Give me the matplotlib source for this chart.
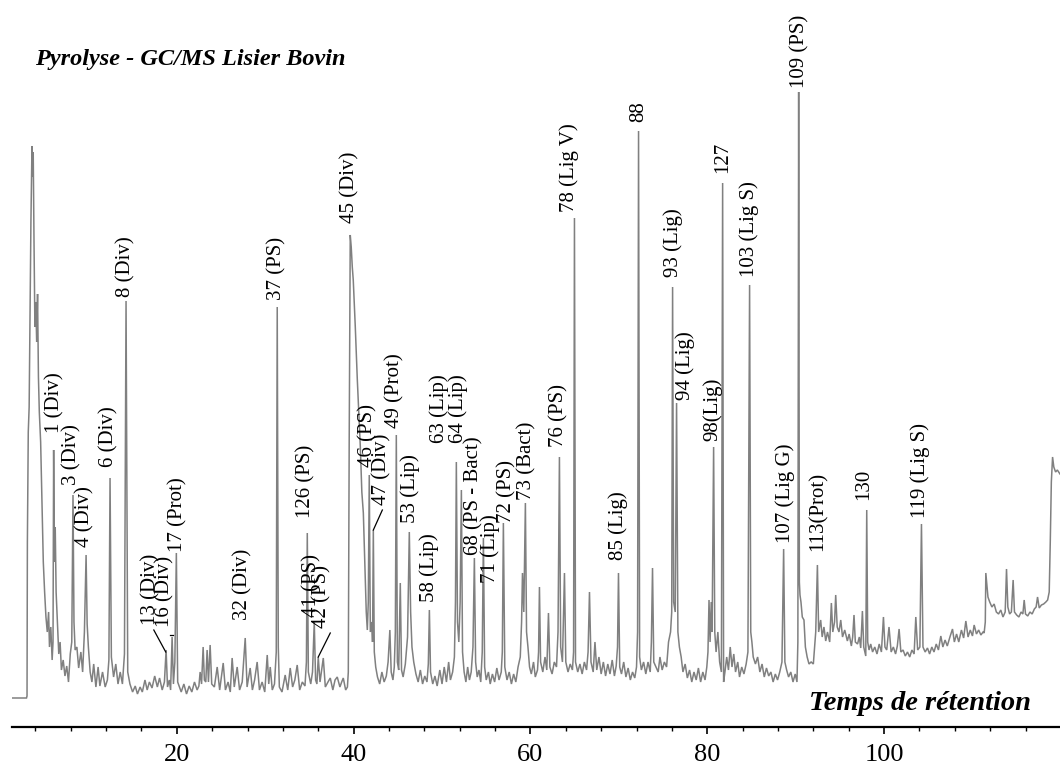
import matplotlib
matplotlib.use("Agg")
import matplotlib.pyplot as plt
from matplotlib.ticker import MultipleLocator

# ---------------- data (retention time in min, abundance in arbitrary units) ----------------
rt_0_20 = [1.36, 3.0, 3.06, 3.1, 3.2, 3.3, 3.4, 3.5, 3.62, 3.7, 3.76, 3.85, 3.95, 4.05, 4.15, 4.25, 4.35,
           4.45, 4.6, 4.75, 4.9, 5.05, 5.2, 5.35, 5.5, 5.6, 5.75, 5.9, 6.0, 6.07, 6.15, 6.25, 6.35, 6.5,
           6.65, 6.8, 6.95, 7.15, 7.35, 7.55, 7.75, 7.95, 8.12, 8.26, 8.37, 8.5, 8.7, 8.9, 9.15, 9.35,
           9.55, 9.74, 9.86, 10.0, 10.2, 10.4, 10.6, 10.85, 11.1, 11.3, 11.6, 11.9, 12.15, 12.32, 12.45,
           12.6, 12.85, 13.1, 13.35, 13.6, 13.85, 14.08, 14.26, 14.45, 14.7, 15.0, 15.3, 15.55, 15.85,
           16.1, 16.4, 16.65, 16.9, 17.2, 17.5, 17.8, 18.05, 18.35, 18.6, 18.79, 18.95, 19.15, 19.3,
           19.47, 19.62, 19.78, 19.95, 20.1, 20.3]
ab_0_20 = [44, 44, 46, 200, 310, 335, 430, 520, 596, 565, 590, 500, 415, 440, 400, 448, 365,
           330, 300, 240, 180, 150, 125, 110, 130, 95, 115, 82, 100, 292, 180, 215, 150, 120,
           88, 100, 72, 82, 66, 76, 60, 88, 100, 247, 120, 92, 95, 74, 90, 70,
           110, 187, 118, 95, 70, 60, 78, 55, 75, 56, 70, 55, 62, 82, 264,
           85, 65, 78, 58, 70, 58, 88, 441, 70, 58, 50, 56, 48, 55,
           50, 62, 52, 60, 54, 66, 55, 64, 52, 60, 92, 55, 62, 52,
           105, 58, 80, 189, 60, 55]

rt_20_39 = [20.5, 20.8, 21.1, 21.4, 21.7, 22.0, 22.3, 22.5, 22.64, 22.8, 22.98, 23.12, 23.28, 23.43,
            23.58, 23.77, 23.95, 24.25, 24.57, 24.85, 25.25, 25.5, 25.8, 26.05, 26.26, 26.5, 26.83,
            27.1, 27.4, 27.74, 27.95, 28.3, 28.55, 28.8, 29.09, 29.35, 29.65, 29.95, 30.23, 30.4,
            30.57, 30.8, 31.05, 31.25, 31.36, 31.48, 31.6, 31.9, 32.26, 32.55, 32.83, 33.1, 33.35,
            33.62, 33.9, 34.2, 34.5, 34.66, 34.76, 34.88, 35.15, 35.35, 35.55, 35.7, 35.85, 36.0,
            36.2, 36.57, 36.8, 37.1, 37.36, 37.65, 37.9, 38.15, 38.45, 38.65, 38.83, 39.1, 39.3]
ab_20_39 = [50, 58, 48, 56, 50, 60, 52, 56, 70, 58, 95, 62, 60, 92,
            60, 97, 58, 55, 75, 52, 79, 52, 60, 50, 84, 55, 75,
            52, 60, 104, 55, 74, 52, 62, 80, 52, 60, 50, 87, 58,
            75, 52, 58, 90, 435, 95, 55, 50, 67, 52, 74, 55, 62,
            77, 52, 60, 56, 80, 209, 70, 58, 70, 120, 62, 58, 85,
            60, 84, 55, 60, 64, 52, 62, 65, 55, 60, 64, 52, 55]

rt_39_60 = [39.4, 39.5, 39.62, 39.73, 39.85, 39.96, 40.19, 40.42, 40.76, 40.93, 41.1, 41.32, 41.43,
            41.55, 41.66, 41.77, 41.89, 42.06, 42.14, 42.23, 42.34, 42.5, 42.7, 42.95, 43.2, 43.45,
            43.7, 43.9, 44.1, 44.25, 44.45, 44.6, 44.72, 44.83, 44.95, 45.1, 45.28, 45.42, 45.6,
            45.85, 46.1, 46.3, 46.45, 46.6, 46.8, 47.05, 47.3, 47.55, 47.8, 48.05, 48.3, 48.45,
            48.57, 48.7, 48.95, 49.2, 49.45, 49.75, 50.0, 50.25, 50.5, 50.75, 50.95, 51.2, 51.4,
            51.52, 51.62, 51.75, 51.9, 52.05, 52.19, 52.32, 52.5, 52.7, 52.9, 53.1, 53.3, 53.5,
            53.66, 53.8, 53.98, 54.18, 54.38, 54.55, 54.68, 54.82, 55.0, 55.25, 55.45, 55.7, 55.95,
            56.2, 56.45, 56.7, 56.82, 56.94, 57.1, 57.35, 57.6, 57.85, 58.1, 58.35, 58.6, 58.85,
            59.0, 59.1, 59.25, 59.43, 59.56, 59.72, 59.9]
ab_39_60 = [70, 300, 507, 495, 475, 462, 415, 362, 295, 250, 229, 162, 130,
            112, 140, 267, 110, 120, 100, 212, 90, 75, 65, 58, 70, 60,
            66, 80, 112, 70, 62, 75, 110, 307, 80, 72, 159, 72, 65,
            78, 105, 210, 130, 95, 80, 68, 60, 72, 58, 66, 60, 78,
            132, 70, 58, 66, 56, 72, 58, 75, 60, 80, 62, 70, 85,
            140, 280, 120, 100, 140, 252, 90, 70, 60, 75, 62, 70, 95,
            184, 80, 65, 72, 60, 90, 204, 75, 62, 70, 58, 68, 60,
            74, 62, 70, 90, 219, 75, 62, 70, 58, 68, 60, 75, 85,
            120, 169, 130, 239, 110, 95, 75]

rt_60_78 = [60.1, 60.35, 60.55, 60.8, 60.92, 61.02, 61.15, 61.4, 61.65, 61.85, 62.04, 62.2, 62.45,
            62.7, 62.95, 63.12, 63.28, 63.42, 63.62, 63.85, 64.0, 64.25, 64.5, 64.75, 64.88, 64.98,
            65.1, 65.35, 65.6, 65.85, 66.1, 66.35, 66.52, 66.68, 66.85, 67.1, 67.3, 67.5, 67.75,
            68.0, 68.25, 68.5, 68.75, 69.0, 69.25, 69.5, 69.7, 69.85, 69.96, 70.1, 70.3, 70.55,
            70.8, 71.05, 71.3, 71.55, 71.8, 72.0, 72.12, 72.23, 72.35, 72.55, 72.8, 73.05, 73.3,
            73.55, 73.68, 73.81, 73.95, 74.2, 74.45, 74.65, 74.9, 75.15, 75.4, 75.62, 75.85, 75.98,
            76.08, 76.2, 76.38, 76.53, 76.68, 76.85, 77.05, 77.25, 77.5, 77.75, 78.0, 78.25]
ab_60_78 = [68, 80, 65, 72, 90, 155, 80, 70, 85, 72, 129, 75, 68,
            80, 75, 110, 285, 95, 80, 169, 80, 70, 78, 72, 90, 524,
            80, 70, 78, 68, 80, 72, 90, 150, 80, 70, 100, 72, 85,
            68, 80, 66, 78, 68, 82, 66, 76, 95, 169, 75, 68, 80,
            65, 74, 62, 70, 64, 75, 110, 611, 85, 72, 80, 68, 80,
            70, 100, 174, 80, 75, 70, 85, 72, 80, 75, 100, 110, 130,
            455, 140, 130, 339, 110, 95, 85, 70, 78, 64, 72, 60]

rt_78_91 = [78.5, 78.75, 79.0, 79.25, 79.5, 79.75, 79.95, 80.08, 80.2, 80.32, 80.45, 80.55, 80.72,
            80.85, 81.0, 81.2, 81.4, 81.6, 81.74, 81.85, 82.0, 82.2, 82.4, 82.6, 82.8, 83.0, 83.2,
            83.45, 83.65, 83.9, 84.15, 84.4, 84.6, 84.79, 84.92, 85.05, 85.2, 85.45, 85.7, 85.95,
            86.2, 86.45, 86.7, 86.95, 87.2, 87.45, 87.7, 87.95, 88.2, 88.45, 88.64, 88.78, 88.98,
            89.2, 89.45, 89.7, 89.95, 90.15, 90.25, 90.34]
ab_78_91 = [70, 62, 74, 60, 70, 62, 75, 90, 142, 100, 140, 110, 295,
            110, 90, 110, 80, 70, 559, 60, 70, 85, 72, 95, 75, 88, 70,
            80, 65, 75, 68, 78, 90, 457, 110, 100, 85, 78, 85, 70,
            78, 65, 74, 66, 70, 60, 68, 62, 70, 80, 193, 80, 72,
            65, 70, 60, 68, 60, 100, 650]

rt_90_120 = [90.42, 90.49, 90.6, 90.75, 90.94, 91.1, 91.3, 91.51, 91.75, 92.0, 92.15, 92.27, 92.46,
             92.6, 92.83, 93.0, 93.2, 93.4, 93.6, 93.85, 94.04, 94.2, 94.4, 94.53, 94.7, 94.9, 95.1,
             95.3, 95.55, 95.85, 96.05, 96.3, 96.45, 96.6, 96.75, 97.0, 97.2, 97.36, 97.55, 97.7,
             97.93, 98.04, 98.15, 98.3, 98.49, 98.7, 98.95, 99.2, 99.45, 99.7, 99.93, 100.1, 100.3,
             100.56, 100.8, 101.05, 101.3, 101.5, 101.7, 101.9, 102.15, 102.4, 102.65, 102.9, 103.15,
             103.4, 103.59, 103.8, 104.05, 104.23, 104.4, 104.65, 104.91, 105.15, 105.4, 105.65,
             105.9, 106.15, 106.42, 106.65, 106.9, 107.15, 107.45, 107.74, 107.95, 108.2, 108.45,
             108.75, 109.0, 109.25, 109.5, 109.75, 110.0, 110.19, 110.45, 110.7, 110.95, 111.2,
             111.32, 111.45, 111.51, 111.6, 111.75, 111.95, 112.2, 112.45, 112.7, 112.95, 113.2,
             113.45, 113.7, 113.85, 114.0, 114.2, 114.4, 114.6, 114.75, 115.0, 115.25, 115.5, 115.7,
             115.85, 116.0, 116.25, 116.5, 116.75, 117.0, 117.2, 117.36, 117.55, 117.8, 118.05,
             118.3, 118.5, 118.68, 118.8, 118.92, 119.06, 119.2, 119.4, 119.6, 119.9]
ab_90_120 = [160, 147, 140, 125, 122, 95, 85, 78, 80, 78, 95, 110, 177,
             110, 122, 105, 115, 101, 110, 100, 139, 110, 120, 147, 115, 110, 122,
             105, 112, 101, 108, 96, 105, 127, 100, 98, 105, 94, 131, 95,
             86, 232, 100, 92, 98, 90, 95, 88, 98, 90, 125, 95, 92,
             115, 90, 95, 88, 96, 113, 90, 92, 86, 90, 85, 92,
             88, 125, 92, 95, 218, 95, 90, 94, 88, 95, 90,
             98, 92, 106, 95, 102, 96, 105, 113, 100, 108, 100,
             112, 104, 121, 105, 112, 106, 117, 108, 112, 107, 110,
             109, 120, 169, 160, 145, 140, 135, 138, 130, 128, 132,
             125, 130, 173, 135, 128, 130, 162, 130, 127, 125, 130, 128,
             142, 128, 126, 130, 128, 133, 135, 145, 134, 137, 138,
             140, 142, 150, 200, 260, 285, 275, 270, 272, 268]

# peak annotations: text, label centre (min), label bottom (abundance)
peak_labels = ["1 (Div)", "3 (Div)", "4 (Div)", "6 (Div)", "8 (Div)", "13 (Div)", "16 (Div)",
               "17 (Prot)", "32 (Div)", "37 (PS)", "126 (PS)", "41 (PS)", "42 (PS)", "45 (Div)",
               "46 (PS)", "47 (Div)", "49 (Prot)", "53 (Lip)", "58 (Lip)", "63 (Lip)", "64 (Lip)",
               "68 (PS - Bact)", "71 (Lip)", "72 (PS)", "73 (Bact)", "76 (PS)", "78 (Lig V)",
               "85 (Lig)", "88", "93 (Lig)", "94 (Lig)", "98(Lig)", "127", "103 (Lig S)",
               "107 (Lig G)", "109 (PS)", "113(Prot)", "130", "119 (Lig S)"]
label_rt = [6.23, 8.15, 9.62, 12.34, 14.26, 17.09, 18.68, 20.15, 27.51, 31.36, 34.64, 35.32, 36.45,
            39.62, 41.66, 43.25, 44.72, 46.42, 48.57, 49.70, 51.85, 53.55, 55.47, 57.28, 59.55,
            63.17, 64.42, 69.96, 72.23, 76.19, 77.55, 80.61, 81.74, 84.79, 88.76, 90.45, 92.49,
            97.70, 104.04]
label_ab = [309, 257, 195, 275, 445, 117, 115, 190, 122, 442, 224, 125, 114, 519, 275, 237, 314,
            219, 140, 299, 299, 187, 159, 219, 242, 295, 530, 182, 620, 465, 342, 301, 569, 465,
            199, 654, 191, 242, 224]

# leader lines (from label to peak)
leader_rt = [(17.4, 18.75), (19.25, 19.6), (37.36, 36.0), (43.25, 42.23)]
leader_ab = [(112, 90), (107, 107), (109, 85), (232, 212)]

xticks_major = [20, 40, 60, 80, 100]

# ---------------- plot ----------------
rt = rt_0_20 + rt_20_39 + rt_39_60 + rt_60_78 + rt_78_91 + rt_90_120
ab = ab_0_20 + ab_20_39 + ab_39_60 + ab_60_78 + ab_78_91 + ab_90_120

serif = ["Liberation Serif", "DejaVu Serif"]
plt.rcParams["font.family"] = serif

fig = plt.figure(figsize=(10.6, 7.69), dpi=100)
ax = fig.add_axes([12 / 1060, 1 - 727 / 769, 1 - 12 / 1060, 727 / 769])
ax.plot(rt, ab, color="#808080", lw=1.1, solid_joinstyle="miter")

ax.set_xlim(1.36, 119.9)
ax.set_ylim(15, 742)

for s in ["left", "right", "top"]:
    ax.spines[s].set_visible(False)
ax.spines["bottom"].set_linewidth(1.6)
ax.set_yticks([])
ax.set_xticks(xticks_major)
ax.xaxis.set_minor_locator(MultipleLocator(4))
ax.tick_params(axis="x", which="major", direction="out", length=5, width=1.2, pad=7,
               labelsize=19)
ax.tick_params(axis="x", which="minor", direction="out", length=3, width=1.0)
for lab in ax.get_xticklabels():
    lab.set_family(serif)

for txt, x, y in zip(peak_labels, label_rt, label_ab):
    ax.text(x, y, txt, rotation=90, ha="center", va="bottom", fontsize=15, color="black",
            clip_on=False)

for (x0, x1), (y0, y1) in zip(leader_rt, leader_ab):
    ax.plot([x0, x1], [y0, y1], color="black", lw=0.9)

ax.text(3.96, 682, "Pyrolyse - GC/MS Lisier Bovin", fontsize=17.5, fontweight="bold",
        fontstyle="italic", ha="left", va="center")
ax.text(116.6, 38, "Temps de rétention", fontsize=20.5, fontweight="bold",
        fontstyle="italic", ha="right", va="center")

fig.savefig("out.png", dpi=100)
